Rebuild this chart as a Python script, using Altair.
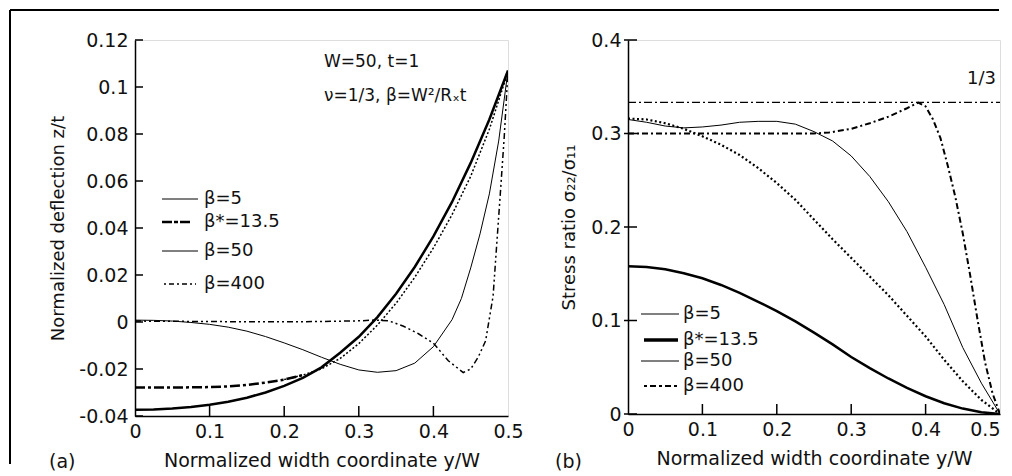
import altair as alt
import pandas as pd

FONT = "DejaVu Sans"
FS = 19
FT = 18

# ---------------- data: panel (a) ----------------
X21 = [0.0, 0.025, 0.05, 0.075, 0.1, 0.125, 0.15, 0.175, 0.2, 0.225, 0.25,
       0.275, 0.3, 0.325, 0.35, 0.375, 0.4, 0.425, 0.45, 0.475, 0.5]

A_B5_Y = [-0.0373, -0.0372, -0.0368, -0.0362, -0.0352, -0.0339, -0.0322, -0.0300,
          -0.0272, -0.0238, -0.0193, -0.0131, -0.0063, 0.0021, 0.0120, 0.0234,
          0.0364, 0.0511, 0.0677, 0.0862, 0.1070]

A_B135_X1 = [0.0, 0.025, 0.05, 0.075, 0.1, 0.125, 0.15, 0.175, 0.2, 0.225]
A_B135_Y1 = [-0.0279, -0.0279, -0.0279, -0.0278, -0.0277, -0.0274, -0.0268, -0.0258,
             -0.0245, -0.0226]
A_B135_X2 = [0.2, 0.225, 0.25, 0.275, 0.3, 0.325, 0.35, 0.375, 0.4, 0.425, 0.45, 0.475, 0.5]
A_B135_Y2 = [-0.0245, -0.0226, -0.0199, -0.0155, -0.0092, -0.0013, 0.0080, 0.0190,
             0.0315, 0.0457, 0.0620, 0.0820, 0.1065]

A_B50_X = [0.0, 0.025, 0.05, 0.075, 0.1, 0.125, 0.15, 0.175, 0.2, 0.225, 0.25, 0.275,
           0.3, 0.325, 0.35, 0.375, 0.4, 0.425, 0.4375, 0.45, 0.4625, 0.475, 0.4875, 0.5]
A_B50_Y = [0.0008, 0.0007, 0.0004, -0.0002, -0.0010, -0.0022, -0.0039, -0.0062,
           -0.0089, -0.0118, -0.0150, -0.0180, -0.0204, -0.0214, -0.0207, -0.0175,
           -0.0105, 0.0010, 0.0100, 0.0230, 0.0375, 0.0545, 0.0770, 0.1070]

A_B400_X = [0.0, 0.05, 0.1, 0.15, 0.2, 0.25, 0.3, 0.32, 0.34, 0.36, 0.38, 0.4, 0.42,
            0.44, 0.45, 0.46, 0.47, 0.48, 0.49, 0.495, 0.5]
A_B400_Y = [0.0004, 0.0003, 0.0002, 0.0001, 0.0001, 0.0002, 0.0005, 0.0008, 0.0005,
            -0.0018, -0.0050, -0.0090, -0.0165, -0.0215, -0.0200, -0.0150, -0.0080,
            0.0110, 0.0560, 0.0790, 0.1070]

A_YTICKS = [-0.04, -0.02, 0.0, 0.02, 0.04, 0.06, 0.08, 0.1, 0.12]
XTICKS = [0.0, 0.1, 0.2, 0.3, 0.4, 0.5]
XTICKS_IN = [0.1, 0.2, 0.3, 0.4]

# ---------------- data: panel (b) ----------------
B_B5_Y = [0.1580, 0.1572, 0.1547, 0.1506, 0.1452, 0.1380, 0.1295, 0.1200, 0.1100,
          0.0990, 0.0870, 0.0745, 0.0610, 0.0490, 0.0380, 0.0280, 0.0190, 0.0115,
          0.0058, 0.0018, 0.0000]
B_B135_Y = [0.316, 0.315, 0.311, 0.305, 0.297, 0.288, 0.277, 0.263, 0.247, 0.229,
            0.208, 0.187, 0.167, 0.147, 0.127, 0.105, 0.083, 0.058, 0.035, 0.015, 0.000]
B_B50_Y = [0.315, 0.312, 0.308, 0.306, 0.307, 0.309, 0.312, 0.313, 0.313, 0.310,
           0.302, 0.292, 0.276, 0.254, 0.227, 0.195, 0.157, 0.117, 0.071, 0.033, 0.000]
B_B400_X = [0.0, 0.05, 0.1, 0.15, 0.2, 0.25, 0.27, 0.3, 0.325, 0.35, 0.375, 0.39, 0.4,
            0.41, 0.42, 0.43, 0.44, 0.45, 0.46, 0.47, 0.48, 0.49, 0.5]
B_B400_Y = [0.300, 0.300, 0.300, 0.300, 0.300, 0.300, 0.301, 0.305, 0.311, 0.318,
            0.327, 0.333, 0.329, 0.315, 0.295, 0.265, 0.232, 0.193, 0.148, 0.100,
            0.055, 0.022, 0.000]
REF_X = [0.0, 0.5]
REF_Y = [1 / 3, 1 / 3]

B_YTICKS = [0.0, 0.1, 0.2, 0.3, 0.4]

LEG_LABELS = ["β=5", "β*=13.5", "β=50", "β=400"]

# ---------------- layout ----------------
WA, HA = 373, 376
WB, HB = 372, 374

LBL = "toString(round(datum.value*100)/100)"


def make_axis(values, title, title_pad, label_pad, title_size, label_align=None):
    kw = dict(values=values, labelExpr=LBL, title=title, ticks=False, tickSize=0,
              grid=False, domainColor="black", domainWidth=1.5, labelPadding=label_pad,
              titlePadding=title_pad, labelFontSize=FS, titleFontSize=title_size,
              labelFont=FONT, titleFont=FONT, titleFontWeight="normal",
              labelColor="#111", titleColor="#111", labelFlush=False,
              labelOverlap=False, labelBound=False)
    if label_align is not None:
        kw["labelAlign"] = label_align
    return alt.Axis(**kw)


def panel(series, ydom, yvals, ytitle, w, h, ytitle_pad, ytick_x, extras, xalign=None):
    xe = alt.X("x:Q", scale=alt.Scale(domain=[0, 0.5], nice=False, zero=False),
               axis=make_axis(XTICKS, "Normalized width coordinate y/W", 10, 6, FS, xalign))
    ye = alt.Y("y:Q", scale=alt.Scale(domain=ydom, nice=False, zero=False),
               axis=make_axis(yvals, ytitle, ytitle_pad, 7, FT))
    layers = []
    for xs, ys, dash, sw in series:
        df = pd.DataFrame({"x": xs, "y": ys})
        kw = dict(color="black", strokeWidth=sw, clip=True)
        if dash:
            kw["strokeDash"] = dash
        layers.append(alt.Chart(df).mark_line(**kw).encode(x=xe, y=ye))
    # inward ticks
    layers.append(alt.Chart(pd.DataFrame({"x": XTICKS_IN})).mark_rule(
        color="black", strokeWidth=1.5).encode(x=xe, y=alt.value(h), y2=alt.value(h - 10)))
    layers.append(alt.Chart(pd.DataFrame({"y": yvals})).mark_rule(
        color="black", strokeWidth=1.5).encode(y=ye, x=alt.value(ytick_x[0]),
                                                x2=alt.value(ytick_x[1])))
    layers += extras
    return alt.layer(*layers).properties(width=w, height=h)


ONE = pd.DataFrame({"k": [0]})


def hrule(x1, x2, y, sw, dash=None):
    kw = dict(color="black", strokeWidth=sw)
    if dash:
        kw["strokeDash"] = dash
    return alt.Chart(ONE).mark_rule(**kw).encode(x=alt.value(x1), x2=alt.value(x2),
                                                 y=alt.value(y))


def vrule(x, y1, y2, sw):
    return alt.Chart(ONE).mark_rule(color="black", strokeWidth=sw).encode(
        x=alt.value(x), y=alt.value(y1), y2=alt.value(y2))


def label(txt, x, y, align="left", size=FS):
    return alt.Chart(ONE).mark_text(align=align, baseline="middle", font=FONT,
                                    fontSize=size, color="#111").encode(
        x=alt.value(x), y=alt.value(y), text=alt.value(txt))


# ---- panel (a) extras ----
extras_a = [
    vrule(-125, -30, 424, 2),
    hrule(-125, 864, -30, 2),
    label("(a)", -86, 422),
    label("W=50, t=1", 189, 22, size=17),
    label("ν=1/3, β=W²/Rₓt", 189, 56, size=17),
    hrule(27, 63, 159, 1),
    hrule(27, 57, 182, 2.5, [10, 2, 4, 2]),
    hrule(27, 63, 211, 1),
    hrule(29, 61, 244, 1.5, [2, 3, 5, 3]),
    label(LEG_LABELS[0], 69, 159, size=18),
    label(LEG_LABELS[1], 69, 182, size=18),
    label(LEG_LABELS[2], 69, 211, size=18),
    label(LEG_LABELS[3], 69, 244, size=18),
]

series_a = [
    (X21, A_B5_Y, None, 2.5),
    (A_B135_X1, A_B135_Y1, [10, 3, 3, 3], 2.5),
    (A_B135_X2, A_B135_Y2, [2, 2], 1.5),
    (A_B50_X, A_B50_Y, None, 1),
    (A_B400_X, A_B400_Y, [6, 3, 2, 3, 2, 3], 1.5),
]

left = panel(series_a, [-0.04, 0.12], A_YTICKS, "Normalized deflection z/t",
             WA, HA, 11, (0, 8), extras_a)

# ---- panel (b) extras ----
extras_b = [
    label("(b)", -73, 422),
    label("1/3", 368, 39, align="right", size=18),
    hrule(13, 51, 274, 1),
    hrule(16, 50, 300, 3.5),
    hrule(13, 51, 321, 1),
    hrule(16, 51, 346, 2, [3, 3, 6, 3]),
    label(LEG_LABELS[0], 55, 274, size=18),
    label(LEG_LABELS[1], 55, 300, size=18),
    label(LEG_LABELS[2], 55, 321, size=18),
    label(LEG_LABELS[3], 55, 346, size=18),
]

series_b = [
    (REF_X, REF_Y, [8, 3, 2, 3], 1.2),
    (X21, B_B5_Y, None, 2.5),
    (X21, B_B135_Y, [2, 2.5], 2.2),
    (X21, B_B50_Y, None, 1),
    (B_B400_X, B_B400_Y, [6, 3, 2, 3], 2),
]

xalign_b = {"condition": {"test": "datum.value >= 0.5", "value": "right"}, "value": "center"}

right = panel(series_b, [0, 0.4], B_YTICKS, "Stress ratio σ₂₂/σ₁₁",
              WB, HB, 12, (-4, 9), extras_b, xalign=xalign_b)

chart = alt.hconcat(left, right, spacing=120, bounds="flush").properties(
    padding=0
).configure_view(stroke="black", strokeWidth=1.5).configure(background="white")

chart.save("out.html", embed_options={"renderer": "svg", "actions": False})
